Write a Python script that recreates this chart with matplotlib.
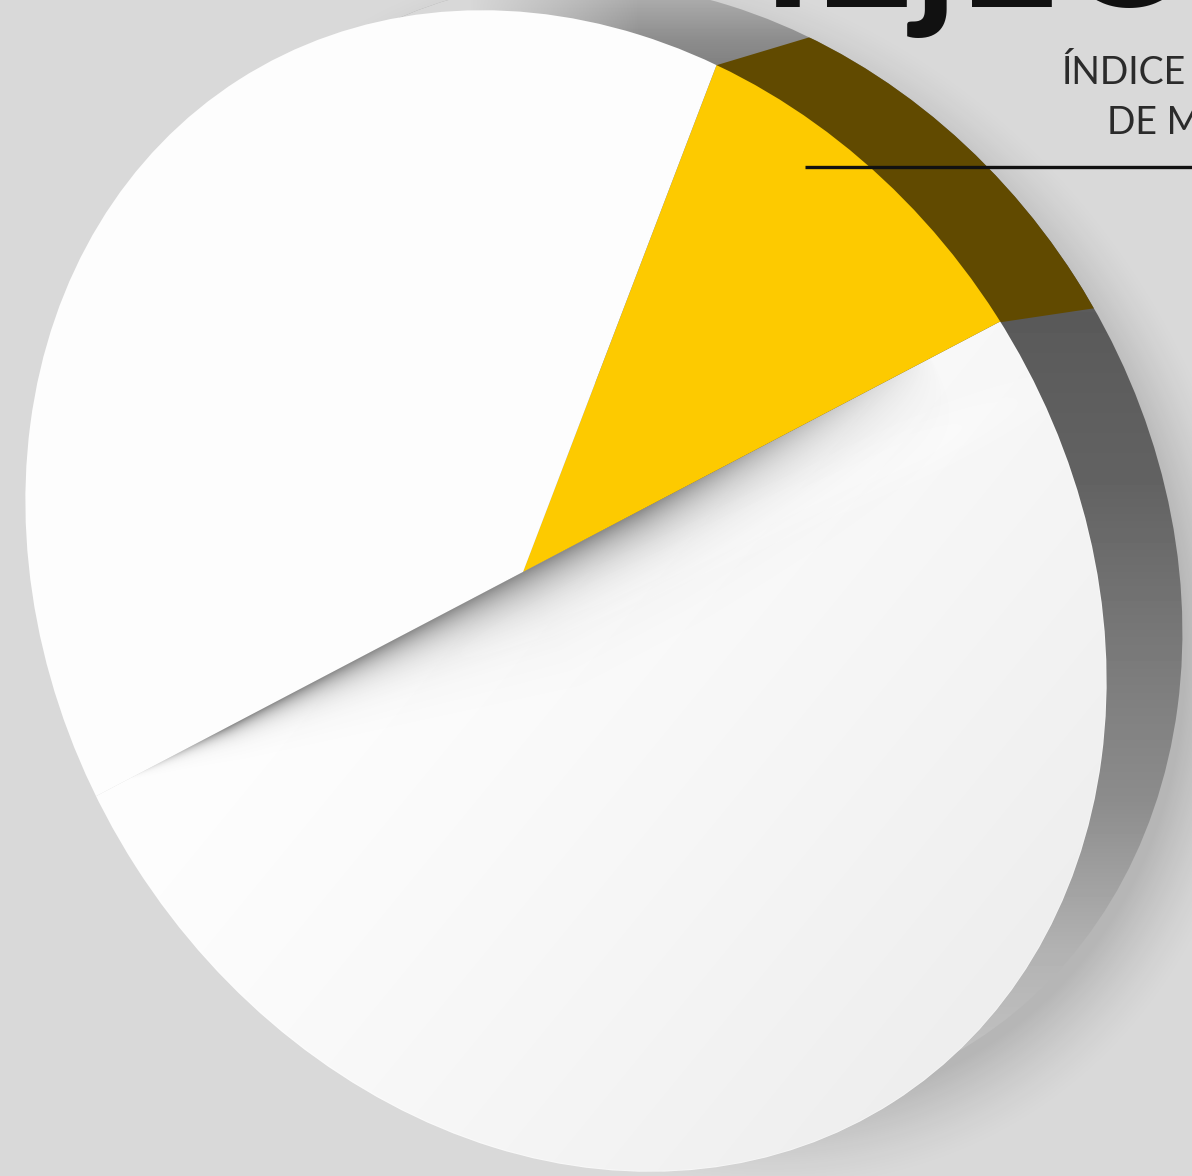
import numpy as np
import matplotlib.pyplot as plt
from matplotlib.patches import Ellipse

W, H = 1192, 1176

# porciones del pastel (blanca inferior, amarilla, blanca superior)
shares = [50.0, 11.5, 38.5]
slice_colors = ['#fdfdfd', '#fdca00', '#fdfdfd']
# banda oscura del canto, sobre la porcion amarilla
rim_shares = [2.29, 97.71]
title_text = 'IEjEO'
sub_lines = ['ÍNDICE', 'DE M']

plt.rcParams['font.family'] = ['Lato', 'DejaVu Sans']

fig = plt.figure(figsize=(W / 100, H / 100), dpi=100, facecolor='#d9d9d9')
ax = fig.add_axes([0, 0, 1, 1])

# geometria en pixeles, y hacia arriba
cx, cy, a, b, ang = 566, 585, 607, 511, -57.4
rx, ry, rs = 658, 631, 0.97
apex = (523, 604)
yy, xx = np.mgrid[H:0:-1, 0:W]


def elipse_q(x0, y0, s):
    # radio normalizado de la elipse inclinada
    t = np.deg2rad(ang)
    dx = xx - x0
    dy = yy - y0
    u = (dx * np.cos(t) + dy * np.sin(t)) / (a * s)
    v = (-dx * np.sin(t) + dy * np.cos(t)) / (b * s)
    return np.sqrt(u ** 2 + v ** 2)


def capa_rgba(gris, alfa, z):
    rgba = np.dstack([np.full_like(alfa, gris), np.full_like(alfa, gris), np.full_like(alfa, gris), alfa])
    return ax.imshow(rgba, extent=(0, W, 0, H), origin='upper', aspect='auto', zorder=z)


# fondo con sombra suave a la derecha
q = elipse_q(rx + 28, ry - 28, rs)
capa_rgba(0.0, np.clip((1.10 - q) / 0.15, 0, 1) ** 1.5 * 0.16, 1)

disc = Ellipse((cx, cy), 2 * a, 2 * b, angle=ang, transform=ax.transData, fc='none', ec='none')
rim = Ellipse((rx, ry), 2 * a * rs, 2 * b * rs, angle=ang, transform=ax.transData, fc='none', ec='none')
ax.add_patch(disc)
ax.add_patch(rim)

# canto gris, oscuro a media altura
py = (H - yy).astype(float)
gris = np.interp(py, [0, 40, 120, 320, 480, 640, 800, 950, 1100], [170, 140, 105, 90, 98, 120, 140, 178, 200])
im = ax.imshow(gris, extent=(0, W, 0, H), origin='upper', aspect='auto', cmap='gray', vmin=0, vmax=255, zorder=2)
im.set_clip_path(rim)
# el canto se pierde hacia la izquierda
im = capa_rgba(0.85, np.clip((640 - xx) / 170, 0, 1).astype(float), 2.5)
im.set_clip_path(rim)

wedges, _ = ax.pie(rim_shares, colors=['#614a00', 'none'], startangle=8.47, center=(-1261, 517),
                   radius=3000, frame=False)
for w in wedges:
    w.set_zorder(3)
    w.set_clip_on(True)
    w.set_clip_path(rim)

# cara del disco con sus tres porciones
wedges, _ = ax.pie(shares, colors=slice_colors, startangle=207.7, center=apex, radius=2000, frame=False)
for w in wedges:
    w.set_zorder(4)
    w.set_linewidth(0)
    w.set_clip_on(True)
    w.set_clip_path(disc)
bajo = wedges[0]
en_disco = np.clip((1 - elipse_q(cx, cy, 1)) * 300, 0, 1)

# degradado de la porcion inferior
luz = np.clip(((xx - 130) * 0.55 + (398 - yy) * 0.45) / 800, 0, 1)
im = capa_rgba(0.0, luz ** 1.3 * 0.095 * en_disco, 5)
im.set_clip_path(bajo.get_path(), bajo.get_transform())

# banda clara debajo de la sombra
t0 = np.deg2rad(27.7)
along = (xx - 130) * np.cos(t0) + (yy - 398) * np.sin(t0)
perp = (xx - 130) * np.sin(t0) - (yy - 398) * np.cos(t0)
brillo = 0.5 * np.exp(-((perp - (25 + along * 0.055)) / 26) ** 2) * np.clip((along - 200) / 300, 0, 1) * np.clip((1050 - along) / 200, 0, 1)
im = capa_rgba(1.0, brillo * en_disco, 5.5)
im.set_clip_path(bajo.get_path(), bajo.get_transform())

# sombra del corte bajo la porcion superior
ancho = np.clip(along / 440, 0, 1) * 24 + 1
fin = np.clip((905 - along) / 330, 0, 1) ** 0.8
inicio = np.clip(along / 110, 0, 1)
alfa = 0.62 * np.exp(-np.clip(perp, 0, None) / ancho) * fin * inicio * (along > 0)
im = capa_rgba(0.28, alfa * en_disco, 6)
im.set_clip_path(bajo.get_path(), bajo.get_transform())

# textos y linea guia
ax.text(981, H - 7, title_text, fontsize=126, fontweight='bold', color='#111111', ha='center',
        va='baseline', zorder=8, clip_on=True)
ax.text(1061, H - 73, sub_lines[0], fontsize=27, color='#2b2b2b', ha='left', va='center', zorder=8, clip_on=True)
ax.text(1107, H - 123, sub_lines[1], fontsize=27, color='#2b2b2b', ha='left', va='center', zorder=8, clip_on=True)
ax.plot([805, W], [H - 167, H - 167], color='#111111', lw=2.4, zorder=8, solid_capstyle='butt')

ax.set_xlim(0, W)
ax.set_ylim(0, H)
ax.set_aspect('auto')
ax.axis('off')
fig.savefig('out.png', dpi=100, facecolor=fig.get_facecolor())
